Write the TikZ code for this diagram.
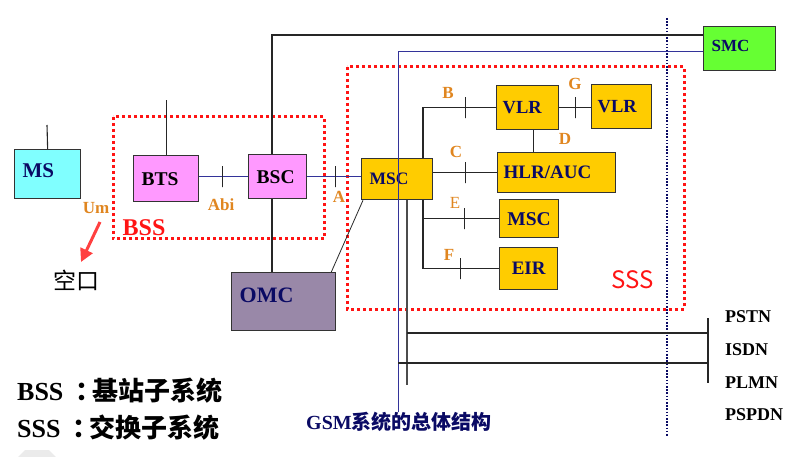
\documentclass[tikz,border=0pt]{standalone}
\usepackage{fontspec}
\setmainfont{Liberation Serif}
\newfontfamily\cjk{Noto Sans CJK SC}
\usetikzlibrary{arrows.meta,calc}
\definecolor{msblue}{RGB}{128,255,255}
\definecolor{bsspink}{RGB}{255,153,255}
\definecolor{omcgrey}{RGB}{153,136,168}
\definecolor{sssgold}{RGB}{255,204,0}
\definecolor{smcgreen}{RGB}{102,255,51}
\definecolor{ifaceorange}{RGB}{224,134,32}
\definecolor{navytext}{RGB}{10,10,100}
\definecolor{bluewire}{RGB}{51,51,153}
\definecolor{dashred}{RGB}{255,20,20}
\newcommand\fsz[1]{\fontsize{#1}{#1}\selectfont}
\newcommand\cjkcolon{\kern0.45em{\cjk ：}\kern-0.35em}

\begin{document}
\begin{tikzpicture}[x=1pt,y=-1pt,>=Stealth,
  box/.style={draw=black!80,line width=1.3pt,inner xsep=8pt,inner ysep=0pt,anchor=north west,text=navytext},
  wire/.style={draw=black!85,line width=1.1pt},
  bwire/.style={draw=bluewire,line width=1pt},
  tickmark/.style={draw=black!85,line width=1pt,minimum width=0pt,minimum height=21pt,inner sep=0pt},
  iface/.style={text=ifaceorange,font=\fsz{17}\bfseries,inner sep=0pt},
  subsys/.style={draw=dashred,line width=3pt,dash pattern=on 3pt off 3pt},
  netname/.style={anchor=west,font=\fsz{18}\bfseries,inner sep=0pt}]
  \useasboundingbox (0,0) rectangle (809,457);
  % boxes: mobile station, base station subsystem, OMC
  \node[box,fill=msblue,minimum width=66pt,minimum height=49pt,text width=50pt,align=left,text depth=8pt,font=\fsz{21}\bfseries] (ms) at (14,149) {MS};
  \node[box,fill=bsspink,text=black,minimum width=65pt,minimum height=46pt,text width=49pt,align=left,font=\fsz{19.5}\bfseries] (bts) at (133,155) {BTS};
  \node[box,fill=bsspink,text=black,minimum width=58pt,minimum height=44pt,text width=42pt,align=left,inner xsep=6pt,font=\fsz{19.5}\bfseries] (bsc) at (248,154) {BSC};
  \node[box,fill=omcgrey,minimum width=104pt,minimum height=58pt,text width=88pt,align=left,text depth=12pt,font=\fsz{22}\bfseries] (omc) at (231,272) {OMC};
  % switching subsystem
  \node[box,fill=sssgold,minimum width=71pt,minimum height=41pt,text width=55pt,align=left,font=\fsz{17.5}\bfseries] (msc) at (361,158) {MSC};
  \node[box,fill=sssgold,minimum width=62pt,minimum height=44pt,text width=50pt,inner xsep=6pt,align=left,font=\fsz{18.5}\bfseries] (vlr1) at (496,85) {VLR};
  \node[box,fill=sssgold,minimum width=60pt,minimum height=44pt,text width=48pt,inner xsep=6pt,align=left,font=\fsz{18.5}\bfseries] (vlr2) at (591,84) {VLR};
  \node[box,fill=sssgold,minimum width=118pt,minimum height=40pt,text width=106pt,inner xsep=6pt,align=left,font=\fsz{19}\bfseries] (hlr) at (497,152) {HLR/AUC};
  \node[box,fill=sssgold,minimum width=59pt,minimum height=38pt,inner xsep=2pt,font=\fsz{19.5}\bfseries] (msc2) at (499,199) {MSC};
  \node[box,fill=sssgold,minimum width=58pt,minimum height=42pt,inner xsep=2pt,font=\fsz{19}\bfseries] (eir) at (499,247) {EIR};
  \node[box,fill=smcgreen,minimum width=72pt,minimum height=44pt,text width=56pt,align=left,text depth=6pt,font=\fsz{17}\bfseries] (smc) at (703,26) {SMC};

  % free ends
  \coordinate (msant) at (47,125);
  \coordinate (btsant) at (165,100);
  \coordinate (blackturn) at (272,35);
  \coordinate (blueturn) at (398,52);
  \coordinate (blueend) at (398,412);
  \coordinate (branch) at (423,272);
  \coordinate (trunkend) at (407,385);
  \coordinate (bartop) at (708,318);
  \coordinate (barbot) at (708,383);
  \coordinate (pstnrow) at (708,333);
  \coordinate (isdnrow) at (708,363);
  \coordinate (bordertop) at (667,18);
  \coordinate (borderbot) at (667,436);
  \coordinate (umtail) at (100,222);
  \coordinate (umhead) at (81,262);

  % subsystem frames
  \draw[subsys] (113,117) rectangle (324,239);
  \draw[subsys] (347,67) rectangle (684,309);
  \draw[navytext,line width=1.6pt,dash pattern=on 1.6pt off 1.6pt] (bordertop) -- (borderbot);

  % connections
  \draw[wire] (ms.north) -- (msant);
  \draw[wire] (bts.north) -- (bts.north |- btsant);
  \draw[bwire] (bts.east |- bsc.west) -- node[tickmark,pos=0.48] (tabi) {} (bsc.west);
  \draw[bwire] (bsc.east) -- node[tickmark,pos=0.53] (ta) {} (bsc.east -| msc.west);
  \draw[wire] (bsc.north -| blackturn) -- (blackturn) -- (blackturn -| smc.west);
  \draw[wire] (bsc.south -| blackturn) -- (omc.north -| blackturn);
  \draw[draw=black!85,line width=0.8pt] ([xshift=-5pt]omc.north east) -- ([xshift=2pt]msc.south west);
  \draw[bwire] (blueend) -- (blueturn) -- (blueturn -| smc.west);
  \draw[wire] (msc.north -| branch) |- node[tickmark,pos=0.79] (tb) {} (vlr1.west);
  \draw[wire] (msc.east |- hlr.west) -- node[tickmark,pos=0.51] (tc) {} (hlr.west);
  \draw[wire] ([xshift=6pt]vlr1.south) -- ([xshift=6pt]vlr1.south |- hlr.north);
  \draw[wire] (vlr1.east) -- node[tickmark,pos=0.52] (tg) {} (vlr1.east -| vlr2.west);
  \draw[wire] (msc.south -| branch) |- node[tickmark,pos=0.745] (tf) {} (eir.west);
  \draw[wire] (branch |- msc2.west) -- node[tickmark,pos=0.55] (te) {} (msc2.west);
  \draw[draw=black!70,line width=1.6pt] (msc.south -| trunkend) -- (trunkend);
  \draw[wire] (trunkend |- pstnrow) -- (pstnrow);
  \draw[wire] (blueend |- isdnrow) -- (isdnrow);
  \draw[draw=black!85,line width=1.5pt] (bartop) -- (barbot);
  \draw[draw=red!75,line width=3pt,-{Triangle[length=13pt,width=13pt]}] (umtail) -- (umhead);

  % interface labels
  \node[iface] (lum) at (96,208) {Um};
  \node[iface] (labi) at (221,205) {Abi};
  \node[iface] (la) at (339,197) {A};
  \node[iface] (lb) at (448,93) {B};
  \node[iface] (lc) at (456,152) {C};
  \node[iface] (ld) at (565,139) {D};
  \node[iface,font=\fsz{17}] (le) at (455,203) {E};
  \node[iface] (lf) at (449,255) {F};
  \node[iface] (lg) at (575,84) {G};
  \node[text=dashred,font=\fsz{24}\bfseries,inner sep=0pt] (lbss) at (144,228) {BSS};
  \node[text=dashred,font=\cjk\fsz{24},inner sep=0pt] (lsss) at (633,280) {SSS};
  \node[font=\cjk\fsz{23},inner sep=0pt] (air) at (76,280) {空口};

  % external networks
  \node[netname] (pstn) at (725,317) {PSTN};
  \node[netname] (isdn) at (725,350) {ISDN};
  \node[netname] (plmn) at (725,383) {PLMN};
  \node[netname] (pspdn) at (725,415) {PSPDN};

  % captions
  \node[anchor=west,text=navytext,inner sep=0pt,font=\fsz{20}\bfseries] (title) at (306,422) {GSM{\cjk 系统的总体结构}};
  \node[anchor=west,inner sep=0pt,font=\fsz{26}\bfseries] (bssnote) at (17,391) {BSS\cjkcolon{\cjk 基站子系统}};
  \node[anchor=west,inner sep=0pt,font=\fsz{26}\bfseries] (sssnote) at (17,428) {SSS\cjkcolon{\cjk 交换子系统}};
  \fill[black!8] (18,457) -- (25,450) -- (49,450) -- (56,457) -- cycle;
\end{tikzpicture}
\end{document}
